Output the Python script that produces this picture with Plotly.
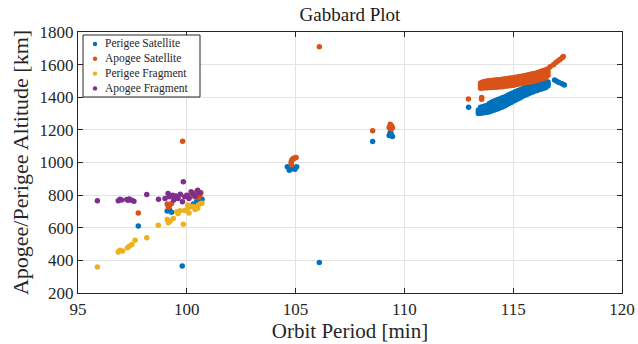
import plotly.graph_objects as go

# ---- Satellites outside the main cluster: period [min], altitude [km] ----
perigee_sat_period = [
    97.77, 99.79, 99.10, 99.20, 99.30, 100.70, 100.45, 100.38, 100.60, 100.30,
    104.62, 104.71, 104.89, 105.05, 104.80, 104.97,
    106.09, 108.54,
    109.35, 109.40, 109.30, 109.45,
    112.95, 113.47,
    116.90, 117.00, 117.10, 117.25, 117.35,
]
perigee_sat_alt = [
    610, 366, 702, 712, 695, 774, 759, 790, 765, 745,
    974, 953, 964, 974, 960, 958,
    387, 1129,
    1185, 1175, 1165, 1160,
    1338, 1321,
    1505, 1498, 1490, 1482, 1475,
]

apogee_sat_period = [
    97.77, 99.81, 99.10, 99.20, 99.30, 99.15, 100.30, 100.45, 100.40, 100.60,
    100.55, 100.20, 100.65,
    104.82, 104.80, 104.80, 104.83, 104.88, 104.95, 105.02, 104.90,
    106.09, 108.54,
    109.35, 109.40, 109.30, 109.40, 109.45,
    112.94, 113.55, 113.55,
    116.70, 116.85, 116.95, 117.05, 117.15, 117.25, 117.30,
]
apogee_sat_alt = [
    691, 1131, 745, 735, 748, 725, 810, 820, 790, 800,
    785, 795, 815,
    985, 995, 1005, 1015, 1022, 1028, 1030, 1025,
    1710, 1194,
    1235, 1225, 1215, 1205, 1215,
    1389, 1399, 1387,
    1587, 1600, 1612, 1622, 1632, 1642, 1650,
]

# ---- Main satellite cluster (113-117 min), one column of altitudes per period ----
cluster_period = [
    113.4, 113.5, 113.6, 113.7, 113.8, 113.9, 114.0, 114.1, 114.2, 114.3,
    114.4, 114.5, 114.6, 114.7, 114.8, 114.9, 115.0, 115.1, 115.2, 115.3,
    115.4, 115.5, 115.6, 115.7, 115.8, 115.9, 116.0, 116.1, 116.2, 116.3,
    116.4, 116.5, 116.6,
]
cluster_perigee = [
    [1300, 1311, 1322], [1302, 1314, 1326, 1338], [1303, 1316, 1329, 1342],
    [1306, 1319, 1332, 1346], [1308, 1322, 1336, 1350], [1311, 1325, 1339, 1353, 1362],
    [1315, 1329, 1343, 1357, 1370], [1320, 1334, 1348, 1362, 1375], [1325, 1339, 1353, 1367, 1380],
    [1330, 1344, 1358, 1372, 1386], [1335, 1349, 1363, 1377, 1391], [1340, 1354, 1368, 1383, 1397],
    [1347, 1361, 1375, 1389, 1402], [1354, 1368, 1382, 1395, 1408], [1361, 1375, 1389, 1402, 1415],
    [1368, 1382, 1395, 1409, 1422], [1375, 1388, 1401, 1415, 1428], [1382, 1395, 1408, 1421, 1434],
    [1389, 1402, 1414, 1427, 1440], [1396, 1408, 1420, 1433, 1445], [1403, 1415, 1427, 1439, 1451],
    [1410, 1422, 1434, 1446, 1457], [1416, 1427, 1439, 1450, 1461], [1421, 1432, 1443, 1454, 1465],
    [1427, 1438, 1448, 1459, 1469], [1432, 1443, 1453, 1463, 1474], [1438, 1448, 1458, 1468, 1478],
    [1442, 1452, 1462, 1472, 1481], [1447, 1456, 1466, 1475, 1484], [1451, 1460, 1469, 1478, 1486],
    [1455, 1464, 1473, 1481, 1489], [1460, 1468, 1477, 1485, 1492], [1470, 1482, 1494],
]
cluster_apogee = [
    [], [1455, 1466, 1477, 1488], [1457, 1469, 1481, 1493],
    [1458, 1470, 1483, 1496], [1459, 1472, 1485, 1499], [1460, 1473, 1487, 1501],
    [1460, 1474, 1488, 1503], [1461, 1475, 1489, 1504], [1462, 1476, 1490, 1505],
    [1463, 1477, 1492, 1507], [1464, 1478, 1493, 1508], [1465, 1480, 1495, 1510],
    [1467, 1482, 1497, 1512], [1469, 1484, 1499, 1514], [1470, 1485, 1501, 1516],
    [1472, 1487, 1503, 1518], [1474, 1489, 1505, 1520], [1477, 1492, 1507, 1522],
    [1479, 1494, 1509, 1524], [1482, 1497, 1512, 1527], [1484, 1499, 1514, 1529],
    [1487, 1502, 1517, 1532], [1490, 1505, 1520, 1535], [1492, 1507, 1523, 1538],
    [1495, 1510, 1526, 1541], [1497, 1513, 1529, 1544], [1500, 1516, 1531, 1546],
    [1504, 1520, 1535, 1550], [1508, 1524, 1539, 1555], [1512, 1528, 1544, 1559],
    [1516, 1532, 1548, 1564], [1520, 1536, 1552, 1568], [1535, 1555, 1575],
]

# ---- Fragments ----
perigee_frag_period = [
    95.89, 96.85, 96.93, 97.05, 97.27, 97.36, 97.47, 97.62, 98.16, 98.69,
    99.10, 99.23, 99.38, 99.15, 99.84, 99.54, 99.69, 99.96, 100.07, 100.23,
    100.38, 100.53, 100.64, 99.90, 100.10, 100.30, 100.50, 100.70, 99.60, 100.05,
]
perigee_frag_alt = [
    360, 452, 462, 458, 477, 487, 497, 524, 538, 616,
    651, 640, 657, 630, 622, 698, 704, 708, 724, 728,
    712, 739, 749, 705, 690, 730, 720, 750, 688, 740,
]

apogee_frag_period = [
    95.89, 96.85, 96.93, 97.00, 97.24, 97.36, 97.30, 97.47, 97.57, 98.16,
    98.70, 99.14, 99.35, 99.84, 99.00, 99.20, 99.50, 99.60, 99.70, 99.90,
    100.00, 100.10, 100.20, 100.30, 100.50, 100.60, 99.40, 99.80, 100.40,
]
apogee_frag_alt = [
    765, 765, 775, 770, 773, 777, 768, 769, 763, 804,
    775, 810, 800, 882, 780, 790, 795, 780, 805, 790,
    800, 780, 820, 805, 830, 815, 770, 760, 795,
]

series_names = ["Perigee Satellite", "Apogee Satellite", "Perigee Fragment", "Apogee Fragment"]
series_colors = ["#0072BD", "#D95319", "#EDB120", "#7E2F8E"]

x_ticks = [95, 100, 105, 110, 115, 120]
y_ticks = [200, 400, 600, 800, 1000, 1200, 1400, 1600, 1800]


def with_cluster(periods, alts, columns):
    xs, ys = list(periods), list(alts)
    for p, col in zip(cluster_period, columns):
        xs.extend([p] * len(col))
        ys.extend(col)
    return xs, ys


ps_x, ps_y = with_cluster(perigee_sat_period, perigee_sat_alt, cluster_perigee)
as_x, as_y = with_cluster(apogee_sat_period, apogee_sat_alt, cluster_apogee)
series_data = [
    (ps_x, ps_y),
    (as_x, as_y),
    (perigee_frag_period, perigee_frag_alt),
    (apogee_frag_period, apogee_frag_alt),
]

fig = go.Figure()
for name, (xs, ys), color in zip(series_names, series_data, series_colors):
    fig.add_trace(go.Scatter(
        x=xs, y=ys, mode="markers", name=name, showlegend=False,
        marker=dict(color=color, size=5.5, line=dict(width=0)),
    ))

serif = "Liberation Serif, DejaVu Serif, serif"
ink = "#262626"

# Compact boxed legend in the upper-left corner of the axes (paper coordinates)
plot_w, plot_h = 544.0, 261.0
box_x0, box_x1 = 5 / plot_w, 122 / plot_w
box_y0, box_y1 = 1 - 65 / plot_h, 1 - 3 / plot_h
row_step = 14.8 / plot_h
first_row = 1 - 12 / plot_h
dot_x = 17 / plot_w
text_x = 25 / plot_w
r_x, r_y = 2.2 / plot_w, 2.2 / plot_h

shapes = [dict(type="rect", xref="paper", yref="paper",
               x0=box_x0, x1=box_x1, y0=box_y0, y1=box_y1,
               line=dict(color=ink, width=1), fillcolor="white", layer="above")]
annotations = []
for i, (name, color) in enumerate(zip(series_names, series_colors)):
    yc = first_row - i * row_step
    shapes.append(dict(type="circle", xref="paper", yref="paper",
                       x0=dot_x - r_x, x1=dot_x + r_x, y0=yc - r_y, y1=yc + r_y,
                       line=dict(width=0), fillcolor=color, layer="above"))
    annotations.append(dict(xref="paper", yref="paper", x=text_x, y=yc,
                            xanchor="left", yanchor="middle", showarrow=False,
                            text=name, font=dict(family=serif, size=11.5, color=ink)))

axis_common = dict(
    showline=True, linecolor=ink, linewidth=1, mirror="ticks",
    ticks="inside", ticklen=5, tickcolor=ink, automargin=False,
    showgrid=True, gridcolor="#e3e3e3", gridwidth=1, zeroline=False,
    tickfont=dict(family=serif, size=17, color=ink),
)

fig.update_layout(
    width=638, height=344,
    margin=dict(l=78, r=16, t=32, b=51),
    paper_bgcolor="white", plot_bgcolor="white",
    title=dict(text="Gabbard Plot", x=0.5, xanchor="center", xref="paper",
               y=1, yref="container", yanchor="top", pad=dict(t=8),
               font=dict(family=serif, size=19, color="#1a1a1a")),
    xaxis=dict(range=[95, 120], tickvals=x_ticks, ticklabelstandoff=1,
               title=dict(text="Orbit Period [min]", standoff=0,
                          font=dict(family=serif, size=21, color=ink)),
               **axis_common),
    yaxis=dict(range=[200, 1800], tickvals=y_ticks,
               title=dict(text="Apogee/Perigee Altitude [km]", standoff=4,
                          font=dict(family=serif, size=22, color=ink)),
               **axis_common),
    shapes=shapes,
    annotations=annotations,
    showlegend=False,
)

fig.write_html("out.html")
